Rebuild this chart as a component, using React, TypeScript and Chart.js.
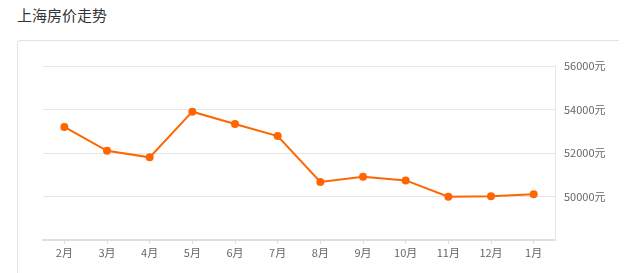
import React, { useEffect, useRef } from "react";
import { Chart, registerables } from "chart.js";

Chart.register(...registerables);

const title = "上海房价走势";
const months = ["2月", "3月", "4月", "5月", "6月", "7月", "8月", "9月", "10月", "11月", "12月", "1月"];
const prices = [53200, 52100, 51800, 53900, 53330, 52780, 50670, 50910, 50740, 49990, 50010, 50100];
const yMin = 48000;
const yMax = 56000;
const yStep = 2000;
const unit = "元";

export default function App() {
  const ref = useRef<HTMLCanvasElement>(null);
  useEffect(() => {
    const chart = new Chart(ref.current!, {
      type: "line",
      data: {
        labels: months,
        datasets: [
          {
            data: prices,
            borderColor: "#ff6600",
            backgroundColor: "#ff6600",
            borderWidth: 2,
            pointRadius: 4,
            pointBackgroundColor: "#ff6600",
            pointBorderWidth: 0,
            tension: 0,
          },
        ],
      },
      options: {
        animation: false,
        responsive: false,
        maintainAspectRatio: false,
        layout: { padding: { left: 43, top: 66, right: 0, bottom: 0 } },
        plugins: { legend: { display: false }, tooltip: { enabled: false } },
        scales: {
          x: {
            offset: true,
            grid: { drawOnChartArea: false, drawTicks: true, tickLength: 4, color: "#dddddd" },
            border: { color: "#e0e0e0", width: 2 },
            ticks: {
              color: "#666666",
              padding: 2,
              maxRotation: 0,
              autoSkip: false,
              font: { family: "'Noto Sans CJK SC', sans-serif", size: 11 },
            },
            afterFit: (s: any) => {
              s.height = 33;
            },
          },
          y: {
            position: "right",
            min: yMin,
            max: yMax,
            grid: { color: "#e6e6e6", drawTicks: false },
            border: { color: "#e6e6e6", width: 1 },
            ticks: {
              stepSize: yStep,
              padding: 9,
              color: "#666666",
              font: { family: "'Noto Sans CJK SC', sans-serif", size: 11 },
              callback: (v: any) => (v === yMin ? "" : v + unit),
            },
            afterFit: (s: any) => {
              s.width = 71;
            },
          },
        },
      },
    });
    return () => chart.destroy();
  }, []);
  return (
    <div style={{ position: "absolute", left: 0, top: 0, width: 626, height: 273, overflow: "hidden", background: "#fff" }}>
      <div
        style={{
          position: "absolute",
          left: 17,
          top: 5,
          fontFamily: "'Noto Sans CJK SC', sans-serif",
          fontSize: 15,
          lineHeight: "20px",
          color: "#333",
        }}
      >
        {title}
      </div>
      <div
        style={{
          position: "absolute",
          left: 17,
          top: 40,
          width: 601,
          height: 400,
          borderTop: "1px solid #e3e3e3",
          borderLeft: "1px solid #e3e3e3",
          borderTopLeftRadius: 4,
        }}
      />
      <canvas ref={ref} width={626} height={273} style={{ position: "absolute", left: 0, top: 0 }} />
    </div>
  );
}
